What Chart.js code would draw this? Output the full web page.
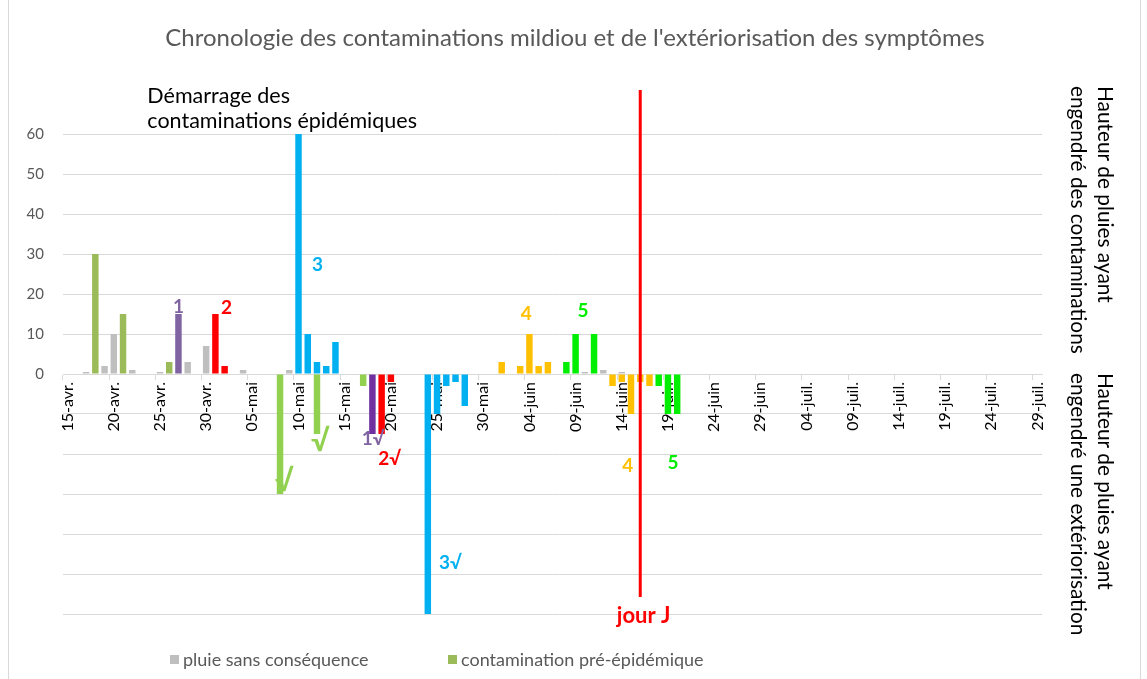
<!DOCTYPE html>
<html><head><meta charset="utf-8">
<script src="https://cdn.jsdelivr.net/npm/chart.js@4"></script>
<style>html,body{margin:0;padding:0;background:#fff}canvas{display:block}</style>
</head><body>
<canvas id="c" width="1147" height="679"></canvas>
<script>
// ---- Texts ----
const titre = "Chronologie des contaminations mildiou et de l'extériorisation des symptômes";
const texteDemarrage = ['Démarrage des', 'contaminations épidémiques'];
const texteDroiteHaut = ['Hauteur de pluies ayant', 'engendré des contaminations'];
const texteDroiteBas = ['Hauteur de pluies ayant', 'engendré une extériorisation'];

// ---- Categories (days) ----
const moisAbr = ['avr.', 'mai', 'juin', 'juil.'];
const premierJour = [15, 1, 1, 1];
const dernierJour = [30, 31, 30, 29];
const jours = [];
for (let m = 0; m < moisAbr.length; m++)
  for (let d = premierJour[m]; d <= dernierJour[m]; d++)
    jours.push(String(d).padStart(2, '0') + '-' + moisAbr[m]);

const ticksY = [0, 10, 20, 30, 40, 50, 60];

// ---- Series (mm of rain) ----
const pluieSansConsequence = [['17-avr.',0.5],['19-avr.',2],['20-avr.',10],['22-avr.',1],['25-avr.',0.5],['28-avr.',3],['30-avr.',7],['04-mai',1],['09-mai',1],['10-juin',0.5],['12-juin',1],['14-juin',0.5]];
const contaminationPreEpidemique = [['18-avr.',30],['21-avr.',15],['26-avr.',3]];
const exteriorisationPreEpidemique = [['08-mai',-30],['12-mai',-15],['17-mai',-3]];
const contamination1 = [['27-avr.',15]];
const exteriorisation1 = [['18-mai',-15]];
const contamination2 = [['01-mai',15],['02-mai',2]];
const exteriorisation2 = [['19-mai',-15],['20-mai',-2]];
const contamination3 = [['10-mai',60],['11-mai',10],['12-mai',3],['13-mai',2],['14-mai',8]];
const exteriorisation3 = [['24-mai',-60],['25-mai',-10],['26-mai',-3],['27-mai',-2],['28-mai',-8]];
const contamination4 = [['01-juin',3],['03-juin',2],['04-juin',10],['05-juin',2],['06-juin',3]];
const exteriorisation4 = [['13-juin',-3],['14-juin',-2],['15-juin',-10],['16-juin',-2],['17-juin',-3]];
const contamination5 = [['08-juin',3],['09-juin',10],['11-juin',10]];
const exteriorisation5 = [['18-juin',-3],['19-juin',-10],['20-juin',-10]];
const jourJ = '16-juin';

// ---- Annotations (positions in data units) ----
const etiquettes = [
  {t:'1', j:'27-avr.', dj:0, v:16.75, c:'#8064A2'},
  {t:'2', j:'02-mai', dj:0.2, v:16.5, c:'#FF0000'},
  {t:'3', j:'12-mai', dj:0.05, v:27.25, c:'#00B0F0'},
  {t:'4', j:'04-juin', dj:-0.35, v:15, c:'#FFC000'},
  {t:'5', j:'09-juin', dj:0.8, v:15.9, c:'#00EE00'},
  {t:'√', j:'08-mai', dj:0.46, v:-26.9, c:'#92D050', s:30},
  {t:'√', j:'12-mai', dj:0.36, v:-16.75, c:'#92D050', s:30},
  {t:'1√', j:'18-mai', dj:0.08, v:-16.1, c:'#8064A2'},
  {t:'2√', j:'20-mai', dj:-0.14, v:-21.3, c:'#FF0000'},
  {t:'3√', j:'26-mai', dj:0.44, v:-47.3, c:'#00B0F0'},
  {t:'4', j:'15-juin', dj:-0.35, v:-22.9, c:'#FFC000'},
  {t:'5', j:'20-juin', dj:-0.44, v:-22.2, c:'#00EE00'},
  {t:'jour J', j:'16-juin', dj:0.37, v:-60.6, c:'#FF0000', s:22}
];

function serie(label, pts, couleur) {
  return { label, data: pts.map(([x, y]) => ({x, y})), backgroundColor: couleur, borderWidth: 0 };
}

const datasets = [
  serie('pluie sans conséquence', pluieSansConsequence, '#BFBFBF'),
  serie('contamination pré-épidémique', contaminationPreEpidemique, '#9BBB59'),
  serie('extériorisation pré-épidémique', exteriorisationPreEpidemique, '#92D050'),
  serie('contamination 1', contamination1, '#8064A2'),
  serie('extériorisation 1', exteriorisation1, '#7030A0'),
  serie('contamination 2', contamination2, '#FF0000'),
  serie('extériorisation 2', exteriorisation2, '#FF0000'),
  serie('contamination 3', contamination3, '#00B0F0'),
  serie('extériorisation 3', exteriorisation3, '#00B0F0'),
  serie('contamination 4', contamination4, '#FFC000'),
  serie('extériorisation 4', exteriorisation4, '#FFC000'),
  serie('contamination 5', contamination5, '#00EE00'),
  serie('extériorisation 5', exteriorisation5, '#00EE00')
];
const legendeIndices = [0, 1];

const decor = {
  id: 'decor',
  beforeDraw(chart) {
    const ctx = chart.ctx;
    ctx.save();
    ctx.fillStyle = '#fff';
    ctx.fillRect(0, 0, chart.width, chart.height);
    ctx.strokeStyle = '#D9D9D9';
    ctx.lineWidth = 1;
    ctx.beginPath();
    ctx.moveTo(8.5, 0); ctx.lineTo(8.5, chart.height);
    ctx.moveTo(1140.5, 0); ctx.lineTo(1140.5, chart.height);
    ctx.stroke();
    ctx.restore();
  },
  afterDraw(chart) {
    const ctx = chart.ctx, xs = chart.scales.x, ys = chart.scales.y;
    const px = (j, dj) => xs.getPixelForValue(jours.indexOf(j) + (dj || 0));
    ctx.save();
    // title
    ctx.fillStyle = '#595959';
    ctx.font = '24px Lato';
    ctx.textAlign = 'center';
    ctx.textBaseline = 'middle';
    ctx.fillText(titre, 575, 38);
    // jour J line
    const xj = px(jourJ, 0);
    ctx.strokeStyle = '#FF0000';
    ctx.lineWidth = 3;
    ctx.beginPath();
    ctx.moveTo(xj, ys.getPixelForValue(71));
    ctx.lineTo(xj, ys.getPixelForValue(-55.75));
    ctx.stroke();
    // labels
    etiquettes.forEach(e => {
      ctx.fillStyle = e.c;
      ctx.font = 'bold ' + (e.s || 19) + 'px Lato';
      ctx.textAlign = 'center';
      ctx.textBaseline = 'middle';
      ctx.fillText(e.t, px(e.j, e.dj), ys.getPixelForValue(e.v));
    });
    // Démarrage
    ctx.fillStyle = '#000';
    ctx.font = '21.5px Lato';
    ctx.textAlign = 'left';
    ctx.fillText(texteDemarrage[0], px('23-avr.', 0.63), ys.getPixelForValue(69.5));
    ctx.fillText(texteDemarrage[1], px('23-avr.', 0.63), ys.getPixelForValue(63.25));
    // right side titles
    ctx.font = '20.8px Lato';
    const vert = (txt, x, y) => {
      ctx.save(); ctx.translate(x, y); ctx.rotate(Math.PI / 2);
      ctx.textAlign = 'left'; ctx.textBaseline = 'middle';
      ctx.fillText(txt, 0, 0); ctx.restore();
    };
    vert(texteDroiteHaut[0], 1105, 86);
    vert(texteDroiteHaut[1], 1078, 86);
    vert(texteDroiteBas[0], 1105, 373);
    vert(texteDroiteBas[1], 1078, 373);
    // legend
    const legX = [170, 448];
    ctx.font = '18px Lato';
    ctx.textBaseline = 'middle';
    legendeIndices.forEach((di, k) => {
      const ds = chart.data.datasets[di];
      ctx.fillStyle = ds.backgroundColor;
      ctx.fillRect(legX[k], 655, 9, 9);
      ctx.fillStyle = '#595959';
      ctx.textAlign = 'left';
      ctx.fillText(ds.label, legX[k] + 13, 660);
    });
    ctx.restore();
  }
};

Chart.defaults.font.family = 'Lato';
new Chart(document.getElementById('c'), {
  type: 'bar',
  data: { labels: jours, datasets },
  options: {
    responsive: false,
    animation: false,
    barPercentage: 0.7,
    categoryPercentage: 1.0,
    layout: { padding: { left: 0, right: 105, top: 134, bottom: 65 } },
    plugins: { legend: { display: false }, tooltip: { enabled: false }, title: { display: false } },
    scales: {
      x: {
        stacked: true,
        position: { y: 0 },
        border: { display: true, color: '#D9D9D9', width: 1 },
        grid: {
          drawOnChartArea: false, drawTicks: true, tickLength: 5,
          color: c => (c.index % 5 === 0 ? '#D9D9D9' : 'rgba(0,0,0,0)')
        },
        ticks: {
          autoSkip: false, minRotation: 90, maxRotation: 90, padding: 3,
          color: '#000', font: { size: 16 },
          callback: function (v, i) { return i % 5 === 0 ? this.getLabelForValue(v) : ''; }
        }
      },
      y: {
        stacked: true,
        min: -60, max: 60,
        border: { display: false },
        grid: { color: '#D9D9D9', drawTicks: false },
        ticks: {
          stepSize: 10, padding: 19, color: '#595959', font: { size: 15 },
          callback: v => (ticksY.includes(v) ? v : '')
        },
        afterFit: s => { s.width = 63; }
      }
    }
  },
  plugins: [decor]
});
</script>
</body></html>
